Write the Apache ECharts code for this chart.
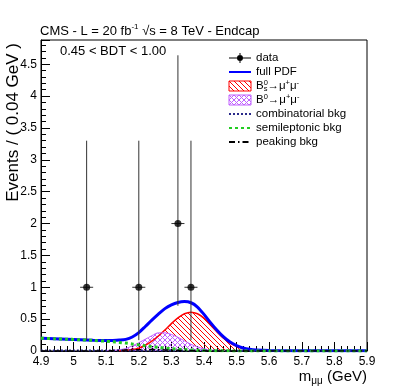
<!DOCTYPE html>
<html>
<head>
<meta charset="utf-8">
<script src="https://cdn.jsdelivr.net/npm/echarts@6/dist/echarts.min.js"></script>
<style>
  html, body { margin: 0; padding: 0; background: #fff; }
  #chart { width: 407px; height: 391px; }
</style>
</head>
<body>
<div id="chart"></div>
<script>
// data points (bins of 0.04 GeV), asymmetric poisson errors
const binCenters = [5.04, 5.20, 5.32, 5.36];
const counts = [1, 1, 2, 1];
const errLow = [0.83, 0.83, 1.29, 0.83];
const errHigh = [2.30, 2.30, 2.64, 2.30];
const binHalf = 0.02;

// pdf curves
const mass = [4.90, 4.94, 4.98, 5.02, 5.06, 5.10, 5.12, 5.14, 5.16, 5.18, 5.20, 5.22, 5.24, 5.26, 5.28, 5.30, 5.32,
  5.34, 5.36, 5.38, 5.40, 5.42, 5.44, 5.46, 5.48, 5.50, 5.52, 5.54, 5.56, 5.60, 5.70, 5.80, 5.90];
const fullPdf = [0.200, 0.193, 0.185, 0.177, 0.169, 0.165, 0.166, 0.171, 0.183, 0.220, 0.288, 0.385, 0.485, 0.580,
  0.665, 0.725, 0.762, 0.775, 0.757, 0.690, 0.575, 0.445, 0.325, 0.220, 0.140, 0.085, 0.048, 0.027, 0.016, 0.008,
  0.005, 0.005, 0.005];
const bsSignal = [null, null, null, null, null, null, null, 0.005, 0.010, 0.022, 0.045, 0.090, 0.155, 0.235, 0.330,
  0.430, 0.520, 0.585, 0.610, 0.585, 0.515, 0.410, 0.300, 0.200, 0.125, 0.072, 0.038, 0.018, 0.008, 0.001,
  null, null, null];
const bdSignal = [null, null, null, null, null, 0.004, 0.010, 0.020, 0.040, 0.080, 0.130, 0.185, 0.240, 0.285, 0.285,
  0.260, 0.215, 0.160, 0.105, 0.065, 0.035, 0.016, 0.006, 0.002, null, null, null, null, null, null, null, null, null];
const semiLeptonic = [0.200, 0.193, 0.185, 0.176, 0.166, 0.153, 0.145, 0.135, 0.124, 0.110, 0.096, 0.082, 0.068, 0.056,
  0.045, 0.036, 0.028, 0.022, 0.017, 0.012, 0.009, 0.006, 0.004, 0.003, 0.002, 0.001, 0.001, 0, 0, 0, 0, 0, 0];
const combMass = [4.90, 5.90];
const combinatorial = [0.007, 0.005];
const peakMass = [4.90, 5.06, 5.12, 5.16, 5.20, 5.24, 5.28, 5.32, 5.38, 5.46, 5.90];
const peaking = [0, 0, 0.006, 0.014, 0.020, 0.022, 0.017, 0.010, 0.003, 0, 0];

const FONT = "'Liberation Sans', Arial, sans-serif";

function pairs(xs, ys) {
  return xs.map((x, i) => [x, ys[i]]);
}

// hatch fill (ROOT fill style 3004 / 3144 lookalike)
function hatch(color, size, cross) {
  const c = document.createElement("canvas");
  c.width = c.height = size;
  const g = c.getContext("2d");
  g.strokeStyle = color;
  g.lineWidth = 1;
  g.beginPath();
  for (const k of [-size, 0, size]) {
    g.moveTo(k, 0);
    g.lineTo(k + size, size);
    if (cross) {
      g.moveTo(k, size);
      g.lineTo(k + size, 0);
    }
  }
  g.stroke();
  return { image: c, repeat: "repeat" };
}

const redHatch = hatch("#ff0000", 5, false);
const violetHatch = hatch("#c060ff", 5, true);

const richLegend = {
  t: { fontSize: 11.5, fontFamily: FONT, lineHeight: 14, verticalAlign: "middle" },
  sup: { fontSize: 7.5, fontFamily: FONT, lineHeight: 14, verticalAlign: "top" },
  sup0: { fontSize: 7.5, fontFamily: FONT, lineHeight: 14, verticalAlign: "top", width: 0.01 },
  sub: { fontSize: 7.5, fontFamily: FONT, lineHeight: 14, verticalAlign: "bottom" },
};

// hide the round symbol that line series put in their legend icon
const noSymbol = { opacity: 0 };

const chart = echarts.init(document.getElementById("chart"), null, { renderer: "canvas" });

const options = {
  animation: false,
  backgroundColor: "#fff",
  title: {
    text: "CMS - L = 20 fb{sup|-1} √s = 8 TeV - Endcap",
    left: 40,
    top: 23,
    padding: 0,
    textStyle: {
      fontSize: 13,
      fontWeight: "normal",
      fontFamily: FONT,
      color: "#000",
      lineHeight: 16,
      rich: {
        sup: { fontSize: 8, fontFamily: FONT, lineHeight: 16, verticalAlign: "top" },
      },
    },
  },
  grid: {
    left: 41,
    right: 40,
    top: 40,
    bottom: 40,
    show: true,
    borderColor: "#000",
    borderWidth: 1,
    backgroundColor: "transparent",
  },
  legend: {
    orient: "vertical",
    left: 228,
    top: 51,
    padding: 0,
    itemWidth: 22,
    itemHeight: 10,
    itemGap: 0,
    textStyle: { fontSize: 11.5, fontFamily: FONT, color: "#000", lineHeight: 14, rich: richLegend },
    formatter: (name) => {
      if (name === "Bs") return "{t|B}{sup0|0}{sub|s}{t|→μ}{sup|+}{t|μ}{sup|-}";
      if (name === "Bd") return "{t|B}{sup|0}{t|→μ}{sup|+}{t|μ}{sup|-}";
      return name;
    },
    data: [
      {
        name: "data",
        icon: "path://M0,4.5H22V5.5H0Z M10.5,0H11.5V10H10.5Z M11,2A3,3 0 1 1 10.99,2Z",
        itemStyle: { color: "#000" },
      },
      { name: "full PDF", itemStyle: noSymbol },
      { name: "Bs", icon: "rect", itemStyle: { color: redHatch, borderColor: "#ff0000", borderWidth: 1 } },
      { name: "Bd", icon: "rect", itemStyle: { color: violetHatch, borderColor: "#c060ff", borderWidth: 1 } },
      { name: "combinatorial bkg", itemStyle: noSymbol },
      { name: "semileptonic bkg", itemStyle: noSymbol },
      { name: "peaking bkg", itemStyle: noSymbol },
    ],
  },
  xAxis: {
    type: "value",
    min: 4.9,
    max: 5.9,
    interval: 0.1,
    axisLine: { lineStyle: { color: "#000", width: 1 } },
    axisTick: { inside: true, length: 9, lineStyle: { color: "#000" } },
    minorTick: { show: true, splitNumber: 5, length: 5, lineStyle: { color: "#000" } },
    splitLine: { show: false },
    axisLabel: {
      color: "#000",
      fontSize: 12,
      fontFamily: FONT,
      margin: 5,
      formatter: (v) => String(Math.round(v * 10) / 10),
    },
  },
  yAxis: {
    type: "value",
    min: 0,
    max: 4.88,
    interval: 0.5,
    axisLine: { show: true, lineStyle: { color: "#000", width: 1 } },
    axisTick: { inside: true, length: 9, lineStyle: { color: "#000" } },
    minorTick: { show: true, splitNumber: 5, length: 5, lineStyle: { color: "#000" } },
    splitLine: { show: false },
    axisLabel: { color: "#000", fontSize: 12, fontFamily: FONT, margin: 4, showMaxLabel: false },
  },
  graphic: [
    {
      type: "text",
      x: 13,
      y: 43,
      rotation: Math.PI / 2,
      style: {
        text: "Events / ( 0.04 GeV )",
        fontSize: 17,
        fontFamily: FONT,
        fill: "#000",
        align: "right",
        verticalAlign: "middle",
      },
    },
    {
      type: "text",
      x: 367,
      y: 377,
      style: {
        text: "{m|m}{sub|μμ}{m| (GeV)}",
        align: "right",
        verticalAlign: "middle",
        fill: "#000",
        rich: {
          m: { fontSize: 15, fontFamily: FONT, lineHeight: 18, verticalAlign: "middle" },
          sub: { fontSize: 10, fontFamily: FONT, lineHeight: 18, verticalAlign: "bottom" },
        },
      },
    },
    {
      type: "text",
      x: 60,
      y: 51,
      style: {
        text: "0.45 < BDT < 1.00",
        fontSize: 13,
        fontFamily: FONT,
        fill: "#000",
        verticalAlign: "middle",
      },
    },
  ],
  series: [
    {
      name: "Bs",
      type: "line",
      smooth: 0.3,
      symbol: "none",
      z: 2,
      itemStyle: { color: "#ff0000" },
      lineStyle: { color: "#ff0000", width: 1.5 },
      areaStyle: { color: redHatch, opacity: 1 },
      data: pairs(mass, bsSignal),
    },
    {
      name: "Bd",
      type: "line",
      smooth: 0.3,
      symbol: "none",
      z: 2,
      itemStyle: { color: "#c060ff" },
      lineStyle: { color: "#c060ff", width: 1 },
      areaStyle: { color: violetHatch, opacity: 1 },
      data: pairs(mass, bdSignal),
    },
    {
      name: "full PDF",
      type: "line",
      smooth: 0.3,
      symbol: "none",
      z: 3,
      itemStyle: { color: "#0000ff" },
      lineStyle: { color: "#0000ff", width: 3 },
      data: pairs(mass, fullPdf),
    },
    {
      name: "combinatorial bkg",
      type: "line",
      smooth: true,
      symbol: "none",
      z: 4,
      itemStyle: { color: "#2a2a8a" },
      lineStyle: { color: "#2a2a8a", width: 2, type: [2, 2] },
      data: pairs(combMass, combinatorial),
    },
    {
      name: "semileptonic bkg",
      type: "line",
      smooth: 0.3,
      symbol: "none",
      z: 4,
      itemStyle: { color: "#22cc22" },
      lineStyle: { color: "#22cc22", width: 3, type: [3, 3] },
      data: pairs(mass, semiLeptonic),
    },
    {
      name: "peaking bkg",
      type: "line",
      smooth: 0.3,
      symbol: "none",
      z: 4,
      itemStyle: { color: "#000" },
      lineStyle: { color: "#000", width: 1.5, type: [6, 3, 1.5, 3] },
      data: pairs(peakMass, peaking),
    },
    {
      // error bars
      name: "data",
      type: "custom",
      z: 5,
      itemStyle: { color: "#000" },
      renderItem: (params, api) => {
        const x = api.value(0);
        const c = api.coord([x, api.value(1)]);
        const lo = api.coord([x, api.value(2)]);
        const hi = api.coord([x, api.value(3)]);
        const l = api.coord([x - binHalf, api.value(1)]);
        const r = api.coord([x + binHalf, api.value(1)]);
        const st = { stroke: "#333", lineWidth: 1 };
        return {
          type: "group",
          children: [
            { type: "line", shape: { x1: l[0], y1: c[1], x2: r[0], y2: c[1] }, style: st },
            { type: "line", shape: { x1: c[0], y1: hi[1], x2: c[0], y2: lo[1] }, style: st },
          ],
        };
      },
      data: binCenters.map((x, i) => [x, counts[i], counts[i] - errLow[i], counts[i] + errHigh[i]]),
    },
    {
      name: "data",
      type: "scatter",
      symbol: "circle",
      symbolSize: 7,
      z: 6,
      itemStyle: { color: "#000" },
      data: pairs(binCenters, counts),
    },
  ],
};

chart.setOption(options);
</script>
</body>
</html>
